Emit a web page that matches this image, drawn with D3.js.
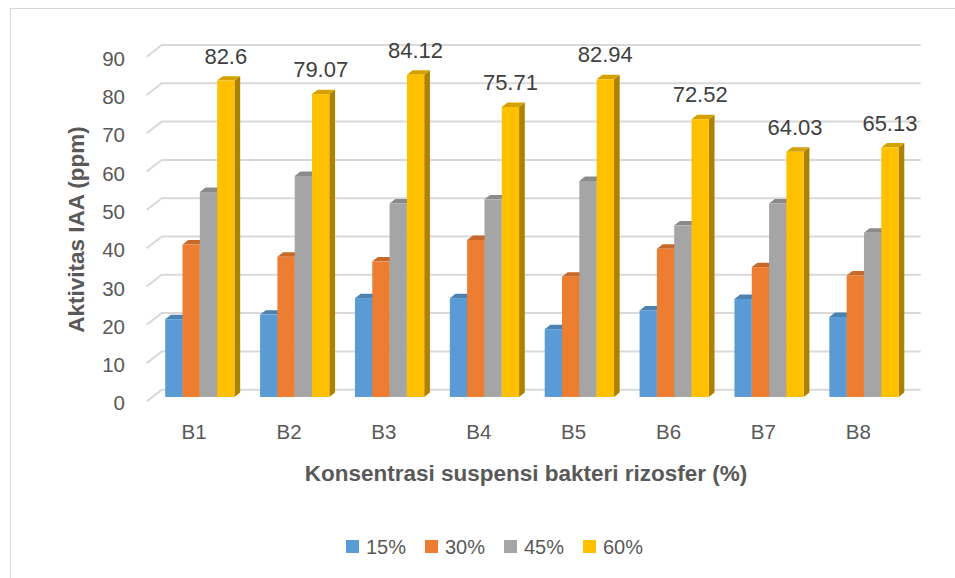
<!DOCTYPE html>
<html><head><meta charset="utf-8">
<script src="https://cdn.jsdelivr.net/npm/d3@7"></script>
<style>
html,body{margin:0;padding:0;background:#fff;}
text{font-family:"Liberation Sans",Arial,sans-serif;}
</style></head>
<body>
<svg id="chart" width="955" height="578"></svg>
<script>
const categories = ["B1","B2","B3","B4","B5","B6","B7","B8"];
const seriesNames = ["15%","30%","45%","60%"];
const s15 = [20.3, 21.5, 25.8, 25.8, 17.7, 22.6, 25.6, 20.9];
const s30 = [39.8, 36.6, 35.4, 41.0, 31.4, 38.7, 33.9, 31.7];
const s45 = [53.5, 57.7, 50.5, 51.6, 56.4, 44.8, 50.5, 42.9];
const s60 = [82.6, 79.07, 84.12, 75.71, 82.94, 72.52, 64.03, 65.13];
const yTicks = [0,10,20,30,40,50,60,70,80,90];
const seriesValues = [s15, s30, s45, s60];
const colors = ["#5B9BD5","#ED7D31","#A5A5A5","#FFC000"];

const svg = d3.select("#chart");
svg.append("rect").attr("x",10.5).attr("y",8.5).attr("width",980).attr("height",620)
  .attr("fill","#fff").attr("stroke","#d9d9d9").attr("stroke-width",1);

const DX = -15, DY = 11.7;
const fFront = 0.62, fBack = 0.24;
const y = d3.scaleLinear().domain([0,90]).range([389.7,45]);
const x = d3.scaleBand().domain(categories).range([161.7,920.7]).paddingInner(0.27).paddingOuter(0.135);
const xs = d3.scaleBand().domain(seriesNames).range([0, x.bandwidth()]);
const xCat = d3.scaleBand().domain(categories).range([161.7+DX, 920.7+DX]);

const grid = svg.append("g");
yTicks.forEach(t => {
  const yb = y(t);
  grid.append("path")
    .attr("d", `M${161.7+DX},${yb+DY}L161.7,${yb}L920.7,${yb}`)
    .attr("fill","none").attr("stroke","#d9d9d9").attr("stroke-width",2);
});

svg.append("g").selectAll("text").data(yTicks).join("text")
  .attr("x",125).attr("y",d=>y(d)+DY+1.5)
  .attr("text-anchor","end").attr("dominant-baseline","central")
  .attr("font-size",20.5).attr("fill","#595959").text(d=>d);

svg.append("g").selectAll("text").data(categories).join("text")
  .attr("x",d=>xCat(d)+xCat.bandwidth()/2).attr("y",431.5)
  .attr("text-anchor","middle").attr("dominant-baseline","central")
  .attr("font-size",20.5).attr("fill","#595959").text(d=>d);

const bars = svg.append("g");
const fdx = DX*fFront, fdy = DY*fFront;
function darker(c,k){ return d3.color(c).darker(k).formatHex(); }
categories.forEach((cat, ci) => {
  seriesNames.forEach((sn, si) => {
    const v = seriesValues[si][ci];
    const x0 = x(cat) + xs(sn) + fdx;
    const x1 = x0 + xs.bandwidth();
    const yb = y(0) + fdy, yt = y(v) + fdy;
    const bx = -DX*(fFront-fBack), by = -DY*(fFront-fBack);
    bars.append("path")
      .attr("d",`M${x1},${yb}L${x1+bx},${yb+by}L${x1+bx},${yt+by}L${x1},${yt}Z`)
      .attr("fill", darker(colors[si],1.1));
    bars.append("path")
      .attr("d",`M${x0},${yt}L${x0+bx},${yt+by}L${x1+bx},${yt+by}L${x1},${yt}Z`)
      .attr("fill", darker(colors[si],0.5));
    bars.append("rect").attr("x",x0).attr("y",yt).attr("width",x1-x0).attr("height",yb-yt)
      .attr("fill", colors[si]);
    if (si === 3) {
      svg.append("text").attr("x",(x0+x1)/2).attr("y",yt-17)
        .attr("text-anchor","middle").attr("font-size",22).attr("fill","#404040").text(v);
    }
  });
});

svg.append("text").attr("x",526).attr("y",480.5).attr("text-anchor","middle")
  .attr("font-size",22.5).attr("font-weight","bold").attr("fill","#595959")
  .text("Konsentrasi suspensi bakteri rizosfer (%)");
svg.append("text").attr("transform","translate(76,229.5) rotate(-90)")
  .attr("text-anchor","middle").attr("dominant-baseline","central")
  .attr("font-size",22.5).attr("font-weight","bold").attr("fill","#595959")
  .text("Aktivitas IAA (ppm)");

const legX = [346,425,504,583];
const leg = svg.append("g");
seriesNames.forEach((sn,i)=>{
  leg.append("rect").attr("x",legX[i]).attr("y",540).attr("width",13).attr("height",13).attr("fill",colors[i]);
  leg.append("text").attr("x",legX[i]+20).attr("y",553.5).attr("font-size",20).attr("fill","#595959").text(sn);
});
</script>
</body></html>
